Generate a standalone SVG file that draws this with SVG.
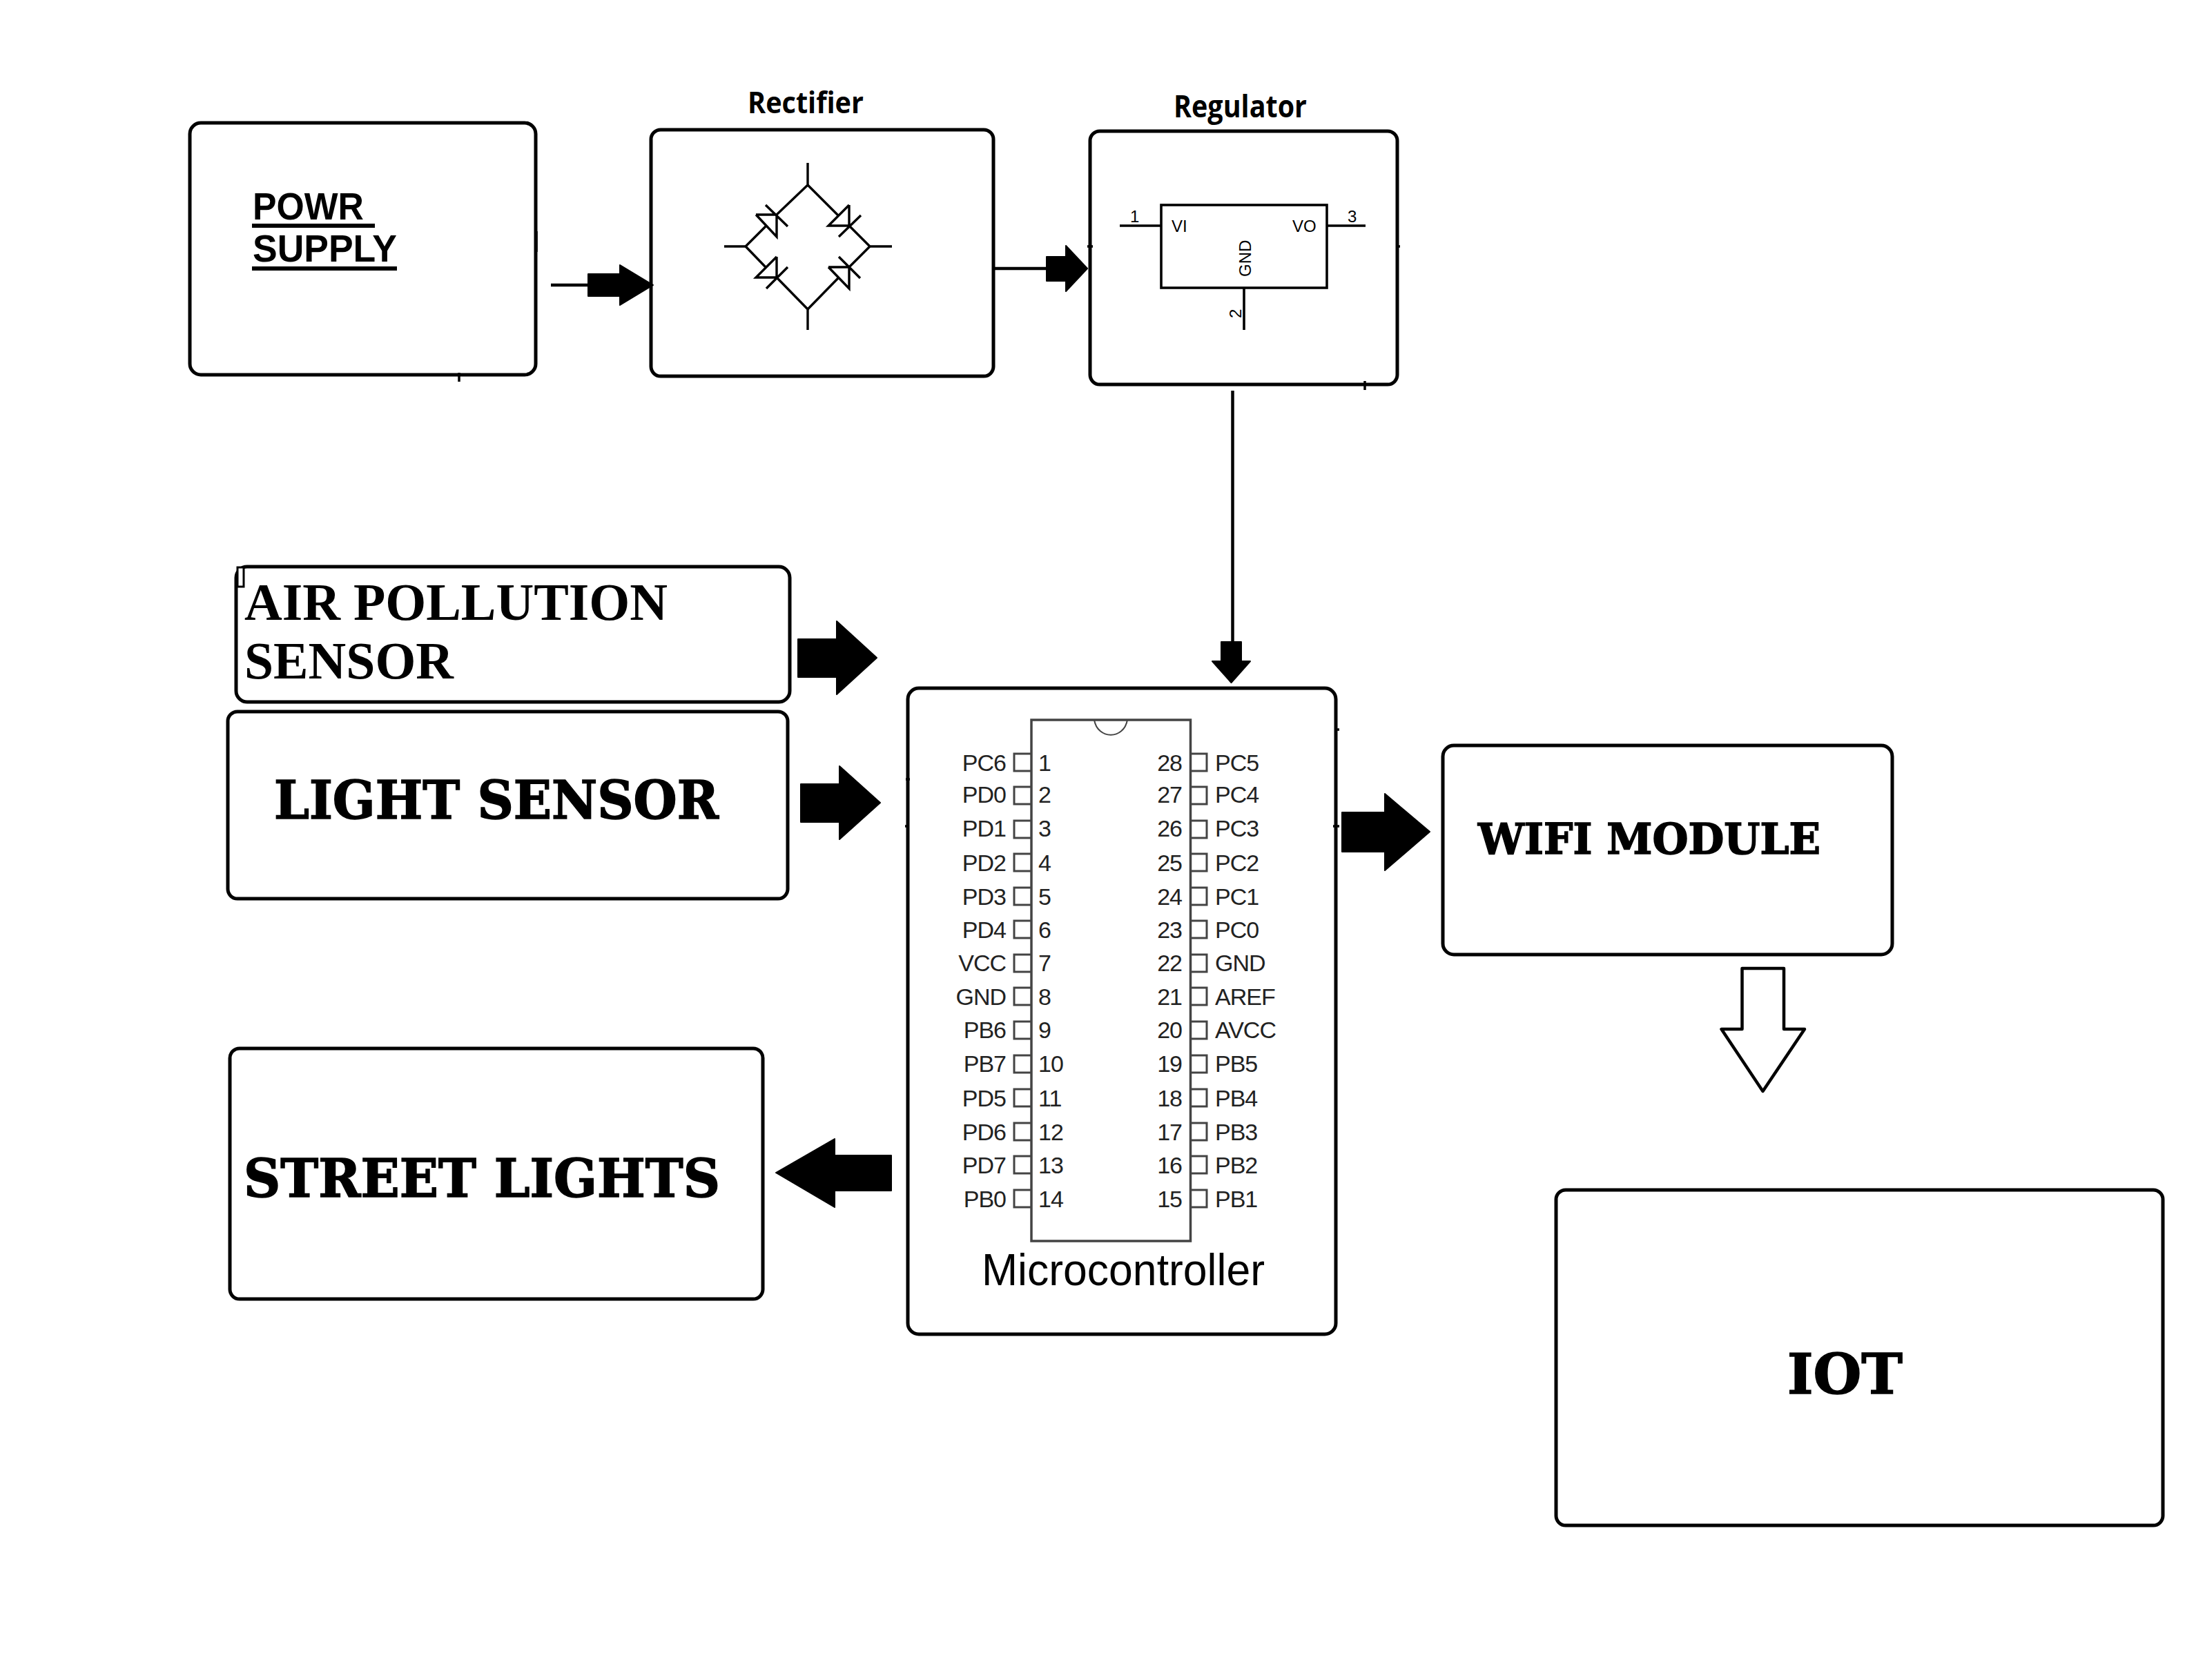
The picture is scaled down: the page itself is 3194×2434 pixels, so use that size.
<svg xmlns="http://www.w3.org/2000/svg" width="3194" height="2434" viewBox="0 0 3194 2434">
<style>
.box{fill:#fff;stroke:#000;stroke-width:5}
.ln{fill:none;stroke:#000;stroke-width:3.6}
.w{fill:none;stroke:#000;stroke-width:3.4;stroke-linejoin:miter}
.tick{fill:none;stroke:#000;stroke-width:3.5}
.arr{fill:#000;stroke:#000;stroke-width:2;stroke-linejoin:round}
.conn{fill:none;stroke:#000;stroke-width:4.5}
.hollow{fill:#fff;stroke:#000;stroke-width:4.5;stroke-linejoin:round}
.sans{font-family:"Liberation Sans",Arial,sans-serif;fill:#000}
.head{font-family:"Open Sans","Noto Sans",sans-serif;font-weight:700;fill:#000}
.times{font-family:"Liberation Serif","Times New Roman",serif;font-weight:700;fill:#000;font-size:76px}
.slab{font-family:"DejaVu Serif",serif;font-weight:700;fill:#000;stroke:#000;stroke-width:1.6}
.pin{font-family:"Liberation Sans",Arial,sans-serif;font-size:34px;letter-spacing:-1px;fill:#222}
.pe{text-anchor:end}
.reg{font-size:24px}
.pbox{fill:none;stroke:#444;stroke-width:3}
</style>

<g id="power-supply">
<rect class="box" x="275" y="178" width="501" height="365" rx="16"/>
<path class="tick" d="M665 540V553M777 335V365"/>
<text class="sans" font-weight="700" font-size="56" x="366" y="318" textLength="161" lengthAdjust="spacingAndGlyphs">POWR</text>
<rect x="365" y="324" width="178" height="6"/>
<text class="sans" font-weight="700" font-size="56" x="366" y="379" textLength="209" lengthAdjust="spacingAndGlyphs">SUPPLY</text>
<rect x="365" y="386" width="210" height="6"/>
</g>

<g id="rectifier">
<rect class="box" x="943" y="188" width="496" height="357" rx="14"/>
<text class="head" font-size="43" x="1083" y="164" textLength="168" lengthAdjust="spacingAndGlyphs">Rectifier</text>
<path class="w" d="M1170 236V268L1125 311M1080 357H1049M1080 357L1109 328M1109 297L1141 328M1095 311H1125V343L1095 311"/>
<path class="w" d="M1170 268L1214 312M1230 297V327H1200L1230 297M1215 343L1247 312M1230 327L1260 357H1292"/>
<path class="w" d="M1080 357L1109 387M1125 372V402H1095L1125 372M1141 387L1110 418M1125 402L1170 448V478"/>
<path class="w" d="M1260 357L1230 387M1200 387H1230V418L1200 387M1215 372L1246 403M1214 403L1170 448"/>
</g>

<g id="regulator">
<rect class="box" x="1579" y="190" width="445" height="367" rx="14"/>
<path class="tick" d="M1575 357H1583M2024 357H2028M1977 552V565"/>
<rect class="ln" x="1682" y="297" width="240" height="120"/>
<path class="ln" d="M1622 327H1682M1922 327H1978M1802 417V478"/>
<text class="sans reg" x="1697" y="336" font-size="25">VI</text>
<text class="sans reg" x="1872" y="336" font-size="25">VO</text>
<text class="sans reg" x="1637" y="322">1</text>
<text class="sans reg" x="1952" y="322">3</text>
<text class="sans reg" transform="translate(1812 401) rotate(-90)">GND</text>
<text class="sans reg" transform="translate(1798 461) rotate(-90)">2</text>
<text class="head" font-size="45" x="1700" y="170" textLength="193" lengthAdjust="spacingAndGlyphs">Regulator</text>
</g>

<g id="air-pollution-sensor">
<rect class="box" x="342" y="821" width="802" height="196" rx="16"/>
<rect x="344" y="822" width="9" height="28" fill="#fff" stroke="#000" stroke-width="3"/>
<text class="times" x="354" y="898" textLength="613" lengthAdjust="spacingAndGlyphs">AIR POLLUTION</text>
<text class="times" x="354" y="983" textLength="303" lengthAdjust="spacingAndGlyphs">SENSOR</text>
</g>

<g id="light-sensor">
<rect class="box" x="330" y="1031" width="811" height="271" rx="14"/>
<text class="slab" font-size="77" x="397" y="1186" textLength="644" lengthAdjust="spacingAndGlyphs">LIGHT SENSOR</text>
</g>

<g id="street-lights">
<rect class="box" x="333" y="1519" width="772" height="363" rx="14"/>
<text class="slab" font-size="76" x="353" y="1734" textLength="690" lengthAdjust="spacingAndGlyphs">STREET LIGHTS</text>
</g>

<g id="wifi-module">
<rect class="box" x="2090" y="1080" width="651" height="303" rx="16"/>
<text class="slab" font-size="62" x="2141" y="1237" textLength="496" lengthAdjust="spacingAndGlyphs">WIFI MODULE</text>
</g>

<g id="iot">
<rect class="box" x="2254" y="1724" width="879" height="486" rx="14"/>
<text class="slab" font-size="80" x="2589" y="2019" textLength="167" lengthAdjust="spacingAndGlyphs">IOT</text>
</g>

<g id="microcontroller">
<rect class="box" x="1315" y="997" width="620" height="936" rx="16"/>
<path class="tick" d="M1312 1129H1318M1311 1197H1317M1933 1057H1940M1931 1197H1940"/>
<path fill="none" stroke="#444" stroke-width="3.500" d="M1494 1043H1724.500V1798H1494Z"/>
<path fill="none" stroke="#444" stroke-width="2" d="M1585 1043C1590 1072 1628 1072 1633 1043"/>
<path class="pbox" d="M1494 1092H1469V1117H1494M1494 1140H1469V1165H1494M1494 1189H1469V1214H1494M1494 1237H1469V1262H1494M1494 1286H1469V1311H1494M1494 1334H1469V1359H1494M1494 1383H1469V1408H1494M1494 1431H1469V1456H1494M1494 1480H1469V1505H1494M1494 1529H1469V1554H1494M1494 1578H1469V1603H1494M1494 1627H1469V1652H1494M1494 1675H1469V1700H1494M1494 1724H1469V1749H1494"/>
<path class="pbox" d="M1724 1092H1748V1117H1724M1724 1140H1748V1165H1724M1724 1189H1748V1214H1724M1724 1237H1748V1262H1724M1724 1286H1748V1311H1724M1724 1334H1748V1359H1724M1724 1383H1748V1408H1724M1724 1431H1748V1456H1724M1724 1480H1748V1505H1724M1724 1529H1748V1554H1724M1724 1578H1748V1603H1724M1724 1627H1748V1652H1724M1724 1675H1748V1700H1724M1724 1724H1748V1749H1724"/>
<g class="pin pe">
<text x="1457" y="1117">PC6</text><text x="1457" y="1163">PD0</text><text x="1457" y="1212">PD1</text><text x="1457" y="1262">PD2</text><text x="1457" y="1311">PD3</text><text x="1457" y="1359">PD4</text><text x="1457" y="1407">VCC</text><text x="1457" y="1456">GND</text><text x="1457" y="1504">PB6</text><text x="1457" y="1553">PB7</text><text x="1457" y="1603">PD5</text><text x="1457" y="1652">PD6</text><text x="1457" y="1700">PD7</text><text x="1457" y="1749">PB0</text>
</g>
<g class="pin">
<text x="1504" y="1117">1</text><text x="1504" y="1163">2</text><text x="1504" y="1212">3</text><text x="1504" y="1262">4</text><text x="1504" y="1311">5</text><text x="1504" y="1359">6</text><text x="1504" y="1407">7</text><text x="1504" y="1456">8</text><text x="1504" y="1504">9</text><text x="1504" y="1553">10</text><text x="1504" y="1603">11</text><text x="1504" y="1652">12</text><text x="1504" y="1700">13</text><text x="1504" y="1749">14</text>
</g>
<g class="pin pe">
<text x="1712" y="1117">28</text><text x="1712" y="1163">27</text><text x="1712" y="1212">26</text><text x="1712" y="1262">25</text><text x="1712" y="1311">24</text><text x="1712" y="1359">23</text><text x="1712" y="1407">22</text><text x="1712" y="1456">21</text><text x="1712" y="1504">20</text><text x="1712" y="1553">19</text><text x="1712" y="1603">18</text><text x="1712" y="1652">17</text><text x="1712" y="1700">16</text><text x="1712" y="1749">15</text>
</g>
<g class="pin">
<text x="1760" y="1117">PC5</text><text x="1760" y="1163">PC4</text><text x="1760" y="1212">PC3</text><text x="1760" y="1262">PC2</text><text x="1760" y="1311">PC1</text><text x="1760" y="1359">PC0</text><text x="1760" y="1407">GND</text><text x="1760" y="1456">AREF</text><text x="1760" y="1504">AVCC</text><text x="1760" y="1553">PB5</text><text x="1760" y="1603">PB4</text><text x="1760" y="1652">PB3</text><text x="1760" y="1700">PB2</text><text x="1760" y="1749">PB1</text>
</g>
<text class="sans" font-size="65" x="1422" y="1862" textLength="410" lengthAdjust="spacingAndGlyphs">Microcontroller</text>
</g>

<g id="connectors">
<path class="conn" d="M798 413H852"/>
<polygon class="arr" points="852,397 898,397 898,384 946,413 898,442 898,429 852,429"/>
<path class="conn" d="M1439 389H1515"/>
<polygon class="arr" points="1516,372 1544,372 1544,356 1575,389 1544,422 1544,407 1516,407"/>
<path class="conn" d="M1785.500 566V929"/>
<polygon class="arr" points="1769,930 1798,930 1798,958 1811,958 1783.500,989 1756,958 1769,958"/>
<polygon class="arr" points="1156,926 1212,926 1212,900 1270,953 1212,1006 1212,981 1156,981"/>
<polygon class="arr" points="1160,1136 1216,1136 1216,1110 1275,1163 1216,1216 1216,1191 1160,1191"/>
<polygon class="arr" points="1944,1177 2006,1177 2006,1150 2071,1205 2006,1261 2006,1234 1944,1234"/>
<polygon class="arr" points="1291,1674 1209,1674 1209,1650 1124,1699 1209,1749 1209,1725 1291,1725"/>
<polygon class="hollow" points="2523.500,1403 2584,1403 2584,1491 2614,1491 2553.500,1581 2493.500,1491 2523.500,1491"/>
</g>
</svg>
